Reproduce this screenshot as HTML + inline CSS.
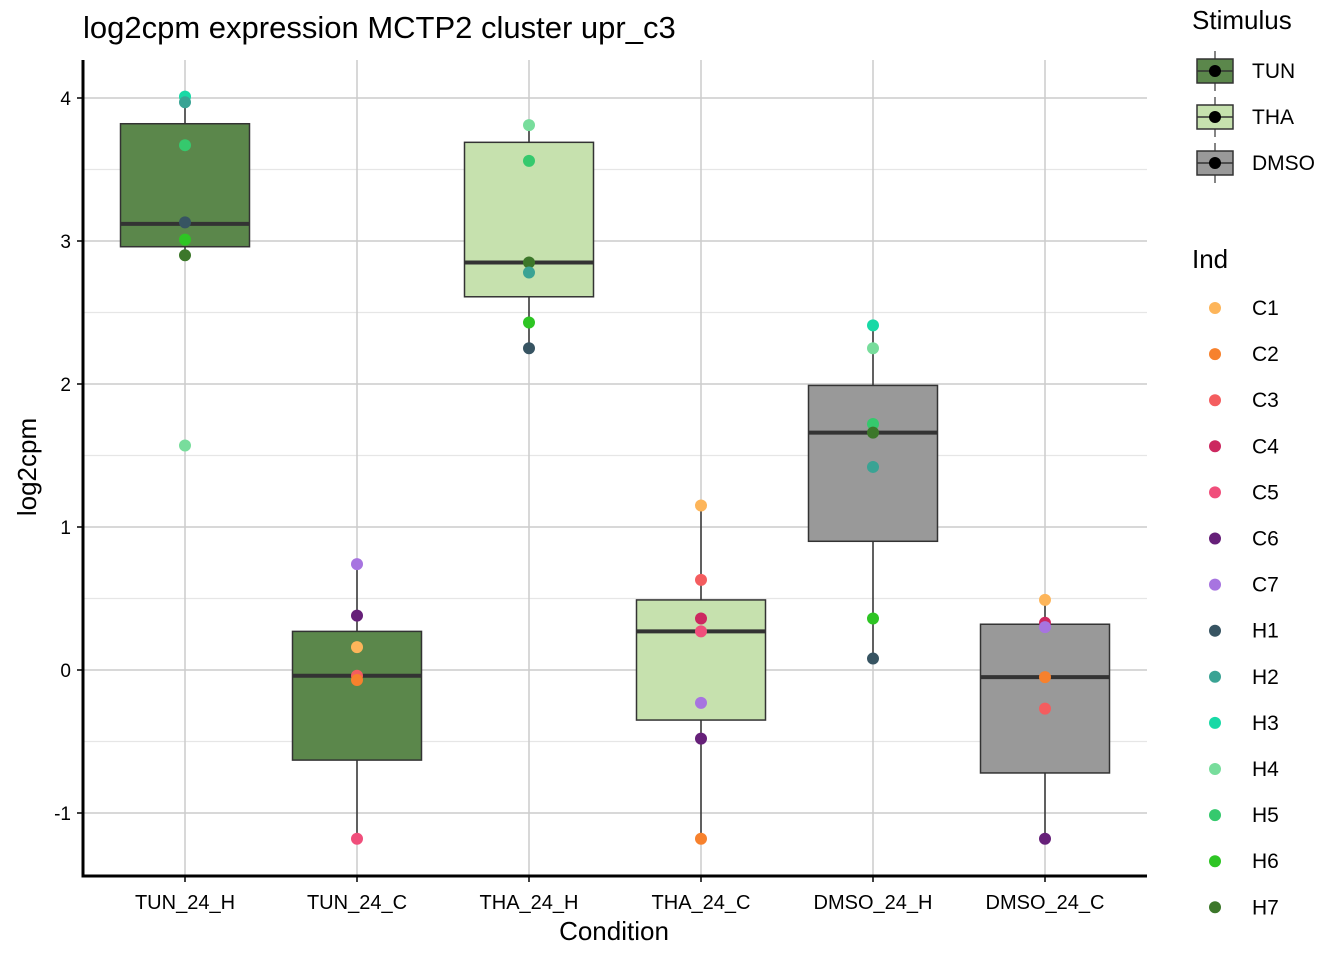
<!DOCTYPE html>
<html><head><meta charset="utf-8"><style>body{margin:0;background:#fff}svg{font-family:"Liberation Sans",sans-serif}</style></head>
<body>
<svg id="c" width="1344" height="960"></svg>
<script>
const categories=["TUN_24_H","TUN_24_C","THA_24_H","THA_24_C","DMSO_24_H","DMSO_24_C"];
const stimulus=["TUN","TUN","THA","THA","DMSO","DMSO"];
const boxQ1=[2.96,-0.63,2.61,-0.35,0.90,-0.72];
const boxMed=[3.12,-0.04,2.85,0.27,1.66,-0.05];
const boxQ3=[3.82,0.27,3.69,0.49,1.99,0.32];
const whiskLo=[2.89,-1.18,2.25,-1.18,0.08,-1.18];
const whiskHi=[4.01,0.74,3.81,1.15,2.41,0.49];
const pointCat=[0,0,0,0,0,0,0, 1,1,1,1,1,1, 2,2,2,2,2,2, 3,3,3,3,3,3,3, 4,4,4,4,4,4,4, 5,5,5,5,5,5];
const pointInd=["H3","H2","H5","H1","H6","H7","H4", "C7","C6","C1","C3","C2","C5", "H4","H5","H7","H2","H6","H1", "C1","C3","C4","C5","C7","C6","C2", "H3","H4","H5","H7","H2","H6","H1", "C1","C4","C7","C2","C3","C6"];
const pointVal=[4.01,3.97,3.67,3.13,3.01,2.90,1.57, 0.74,0.38,0.16,-0.04,-0.07,-1.18, 3.81,3.56,2.85,2.78,2.43,2.25, 1.15,0.63,0.36,0.27,-0.23,-0.48,-1.18, 2.41,2.25,1.72,1.66,1.42,0.36,0.08, 0.49,0.33,0.30,-0.05,-0.27,-1.18];
const yTicks=[-1,0,1,2,3,4];
const indNames=["C1","C2","C3","C4","C5","C6","C7","H1","H2","H3","H4","H5","H6","H7"];
const indColors=["#FDB55A","#F7812D","#F45D5F","#CC2860","#F04E7B","#662079","#A774E0","#375462","#3AA394","#18D9A6","#78DD9C","#35C96D","#2EC524","#3C772A"];
const stimNames=["TUN","THA","DMSO"];
const stimColors=["#5B874B","#C6E1AE","#999999"];

const svg=document.getElementById('c');const NS='http://www.w3.org/2000/svg';
function el(t,a,p){const e=document.createElementNS(NS,t);for(const k in a)e.setAttribute(k,a[k]);(p||svg).appendChild(e);return e;}
const L=83,R=1147,T=60,B=876;
const y=v=>670-v*143;
const x=i=>185+i*172;
const bw=129;
const grid=el('g',{});
for(let v=-1;v<=4;v+=0.5){const w=Number.isInteger(v);el('line',{x1:L,x2:R,y1:y(v),y2:y(v),stroke:w?'#cccccc':'#e6e6e6','stroke-width':w?1.5:1.2},grid);}
categories.forEach((c,i)=>el('line',{x1:x(i),x2:x(i),y1:T,y2:B,stroke:'#cccccc','stroke-width':1.5},grid));
categories.forEach((c,i)=>{
 const g=el('g',{});
 el('line',{x1:x(i),x2:x(i),y1:y(whiskHi[i]),y2:y(boxQ3[i]),stroke:'#333','stroke-width':1.5},g);
 el('line',{x1:x(i),x2:x(i),y1:y(boxQ1[i]),y2:y(whiskLo[i]),stroke:'#333','stroke-width':1.5},g);
 el('rect',{x:x(i)-bw/2,y:y(boxQ3[i]),width:bw,height:y(boxQ1[i])-y(boxQ3[i]),fill:stimColors[stimNames.indexOf(stimulus[i])],stroke:'#333','stroke-width':1.5},g);
 el('line',{x1:x(i)-bw/2,x2:x(i)+bw/2,y1:y(boxMed[i]),y2:y(boxMed[i]),stroke:'#333','stroke-width':4},g);
});
const pg=el('g',{});
pointVal.forEach((v,k)=>{const c=el('circle',{cx:x(pointCat[k]),cy:y(v),r:6,fill:indColors[indNames.indexOf(pointInd[k])]},pg);});
el('line',{x1:L,x2:L,y1:T,y2:B+1.5,stroke:'#000','stroke-width':3});
el('line',{x1:L-1.5,x2:R,y1:B,y2:B,stroke:'#000','stroke-width':3});
yTicks.forEach(v=>{el('line',{x1:L-6,x2:L,y1:y(v),y2:y(v),stroke:'#000','stroke-width':1.5});const t=el('text',{x:L-12,y:y(v)+7,'text-anchor':'end','font-size':19,fill:'#000'});t.textContent=v;});
categories.forEach((c,i)=>{el('line',{x1:x(i),x2:x(i),y1:B,y2:B+6,stroke:'#000','stroke-width':1.5});const t=el('text',{x:x(i),y:909,'text-anchor':'middle','font-size':20,fill:'#000'});t.textContent=c;});
let t=el('text',{x:614,y:940,'text-anchor':'middle','font-size':26});t.textContent='Condition';
t=el('text',{x:36,y:467,'text-anchor':'middle','font-size':26,transform:'rotate(-90 36 467)'});t.textContent='log2cpm';
t=el('text',{x:83,y:38,'font-size':31});t.textContent='log2cpm expression MCTP2 cluster upr_c3';
t=el('text',{x:1192,y:29,'font-size':26});t.textContent='Stimulus';
stimNames.forEach((s,k)=>{const g=el('g',{});const cy=71+k*46;
 el('line',{x1:1215,x2:1215,y1:cy-20,y2:cy+20,stroke:'#333','stroke-width':1.2},g);
 el('rect',{x:1197,y:cy-12,width:36,height:24,fill:stimColors[k],stroke:'#333','stroke-width':1.5},g);
 el('line',{x1:1197,x2:1233,y1:cy,y2:cy,stroke:'#333','stroke-width':1.5},g);
 el('circle',{cx:1215,cy:cy,r:6,fill:'#000'},g);
 const tt=el('text',{x:1252,y:cy+7,'font-size':21},g);tt.textContent=s;});
t=el('text',{x:1192,y:268,'font-size':26});t.textContent='Ind';
indNames.forEach((n,k)=>{const g=el('g',{});const cy=308+k*46.1;
 el('circle',{cx:1215,cy:cy,r:6,fill:indColors[k]},g);
 const tt=el('text',{x:1252,y:cy+7,'font-size':21},g);tt.textContent=n;});
</script>
</body></html>
